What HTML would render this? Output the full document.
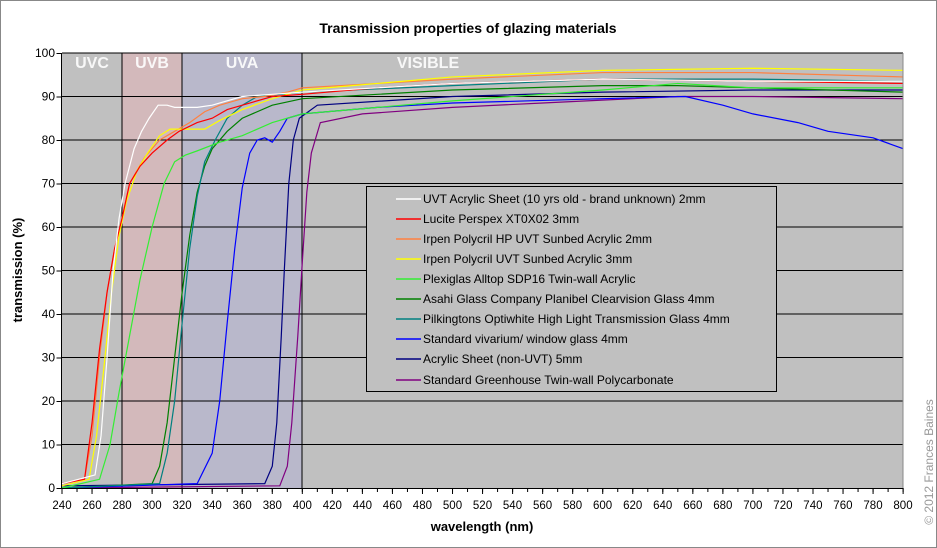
<!DOCTYPE html>
<html><head><meta charset="utf-8"><style>
body{margin:0;background:#fff}
svg{display:block;font-family:"Liberation Sans",Arial,sans-serif}
</style></head><body>
<svg width="937" height="548" viewBox="0 0 937 548">
<rect x="0.5" y="0.5" width="936" height="547" fill="#fff" stroke="#888"/>
<text x="468" y="33" text-anchor="middle" font-size="14" font-weight="bold">Transmission properties of glazing materials</text>
<rect x="62" y="53" width="841" height="435" fill="#c0c0c0"/>
<rect x="122" y="53" width="60" height="435" fill="#d3b9bb"/>
<rect x="182" y="53" width="120" height="435" fill="#b9b8cb"/>
<g stroke="#000" stroke-width="1">
<path d="M62 444.5H903M62 401H903M62 357.5H903M62 314H903M62 270.5H903M62 227H903M62 183.5H903M62 140H903M62 96.5H903M62 53H903"/>
<path d="M122 53V488M182 53V488M302 53V488"/>
</g>
<g fill="#fff" font-weight="bold" font-size="16" text-anchor="middle" opacity="0.9">
<text x="92" y="68">UVC</text><text x="152" y="68">UVB</text><text x="242" y="68">UVA</text><text x="428" y="68">VISIBLE</text>
</g>
<g transform="translate(-298.48,488) scale(1.502,-4.35)" fill="none" stroke-width="1.2">
<polyline vector-effect="non-scaling-stroke" stroke="#800080" points="240,0 385,0.5 390,5 393,15 397,35 400,52 403,68 406,77 412,84 440,86 500,87.5 560,88.5 650,90 700,90 800,89.5"/>
<polyline vector-effect="non-scaling-stroke" stroke="#000080" points="240,0.5 375,1 380,5 383,15 386,35 388,50 391,70 394,80 398,85 410,88 500,90 600,91 700,91.5 800,91.5"/>
<polyline vector-effect="non-scaling-stroke" stroke="#0000ff" points="240,0 330,1 340,8 345,20 350,38 355,55 360,69 365,77 370,80 375,80.5 380,79.5 385,82 390,85 400,86 450,87.5 500,88.5 600,89.5 655,90 680,88 700,86 730,84 750,82 780,80.5 800,78"/>
<polyline vector-effect="non-scaling-stroke" stroke="#008000" points="240,0 300,1 305,5 310,15 315,30 320,45 325,58 330,68 335,74 340,78 350,82 360,85 380,88 400,89.5 450,90.5 500,91.5 600,92.5 650,92.5 700,92 800,91"/>
<polyline vector-effect="non-scaling-stroke" stroke="#008080" points="240,0 305,1 310,8 315,20 320,38 325,55 330,67 335,75 342,80 350,85 360,88 370,90 400,91 500,92.5 600,94 700,94 800,93.5"/>
<polyline vector-effect="non-scaling-stroke" stroke="#33ee33" points="240,0 265,2 272,10 278,22 285,35 292,48 300,60 308,70 315,75 322,76.5 330,77.5 345,79.5 360,81 380,84 400,86 450,87.5 500,89 600,91.5 650,93 700,92 800,92"/>
<polyline vector-effect="non-scaling-stroke" stroke="#ff8040" points="240,1 255,2 260,12 265,30 270,45 275,55 280,62 285,70 295,76 305,80 315,82 325,84 335,86.5 345,88 360,89.5 375,90 390,91 400,92 450,93 500,94 600,95.5 700,95.5 800,94.5"/>
<polyline vector-effect="non-scaling-stroke" stroke="#ffff00" points="240,0.5 258,2 263,12 268,28 273,45 278,58 283,66 290,73 297,77 305,81 312,82.5 320,82.5 335,82.5 345,84.5 360,87 380,89.5 400,91.5 450,93 500,94.5 600,96 700,96.5 800,96"/>
<polyline vector-effect="non-scaling-stroke" stroke="#ff0000" points="240,1 255,2 260,15 265,32 270,45 275,55 280,62 285,70 292,74 300,77 310,80 318,82 330,84 340,85 350,87 365,88.5 380,90 400,90.5 450,92 500,93 600,94 700,93.5 800,93"/>
<polyline vector-effect="non-scaling-stroke" stroke="#ffffff" points="240,1 262,3 266,12 270,30 274,50 278,62 282,70 288,78 293,82 298,85 304,88 310,88 315,87.5 322,87.5 330,87.5 340,88 350,89 360,90 380,90.5 400,91 450,92 500,93 600,94 700,93.5 800,93.5"/>
</g>
<rect x="902.5" y="53" width="1" height="435" fill="#888"/>
<rect x="366.5" y="186.5" width="410" height="205" fill="#c0c0c0" stroke="#000"/>
<g stroke-width="1.5">
<path d="M396 199H421" stroke="#fff"/><path d="M396 219H421" stroke="#f00"/><path d="M396 239H421" stroke="#ff8040"/><path d="M396 259H421" stroke="#ff0"/><path d="M396 279H421" stroke="#3e3"/><path d="M396 299H421" stroke="#008000"/><path d="M396 319H421" stroke="#008080"/><path d="M396 339H421" stroke="#00f"/><path d="M396 359H421" stroke="#000080"/><path d="M396 380H421" stroke="#800080"/>
</g>
<g font-size="12" fill="#000">
<text x="423" y="203">UVT Acrylic Sheet (10 yrs old - brand unknown) 2mm</text>
<text x="423" y="223">Lucite Perspex XT0X02 3mm</text>
<text x="423" y="243">Irpen Polycril HP UVT Sunbed Acrylic 2mm</text>
<text x="423" y="263">Irpen Polycril UVT Sunbed Acrylic 3mm</text>
<text x="423" y="283">Plexiglas Alltop SDP16 Twin-wall Acrylic</text>
<text x="423" y="303">Asahi Glass Company Planibel Clearvision Glass 4mm</text>
<text x="423" y="323">Pilkingtons Optiwhite High Light Transmission Glass 4mm</text>
<text x="423" y="343">Standard vivarium/ window glass 4mm</text>
<text x="423" y="363">Acrylic Sheet (non-UVT) 5mm</text>
<text x="423" y="384">Standard Greenhouse Twin-wall Polycarbonate</text>
</g>
<path d="M61.5 53V488.5H903" stroke="#000" fill="none"/>
<line x1="61.5" y1="490" x2="904" y2="490" stroke="#000" stroke-width="4" stroke-dasharray="1 14.02"/>
<line x1="61.5" y1="491" x2="904" y2="491" stroke="#000" stroke-width="6" stroke-dasharray="1 29.04"/>
<line x1="59" y1="53" x2="59" y2="489" stroke="#000" stroke-width="5" stroke-dasharray="1 42.5"/>
<g font-size="12" text-anchor="end">
<text x="55" y="492">0</text><text x="55" y="448.5">10</text><text x="55" y="405">20</text><text x="55" y="361.5">30</text><text x="55" y="318">40</text><text x="55" y="274.5">50</text><text x="55" y="231">60</text><text x="55" y="187.5">70</text><text x="55" y="144">80</text><text x="55" y="100.5">90</text><text x="55" y="57">100</text>
</g>
<g font-size="11.5" text-anchor="middle">
<text x="62" y="509">240</text><text x="92" y="509">260</text><text x="122.1" y="509">280</text><text x="152.1" y="509">300</text><text x="182.1" y="509">320</text><text x="212.2" y="509">340</text><text x="242.2" y="509">360</text><text x="272.3" y="509">380</text><text x="302.3" y="509">400</text><text x="332.3" y="509">420</text><text x="362.4" y="509">440</text><text x="392.4" y="509">460</text><text x="422.4" y="509">480</text><text x="452.5" y="509">500</text><text x="482.5" y="509">520</text><text x="512.5" y="509">540</text><text x="542.6" y="509">560</text><text x="572.6" y="509">580</text><text x="602.6" y="509">600</text><text x="632.7" y="509">620</text><text x="662.7" y="509">640</text><text x="692.8" y="509">660</text><text x="722.8" y="509">680</text><text x="752.8" y="509">700</text><text x="782.9" y="509">720</text><text x="812.9" y="509">740</text><text x="842.9" y="509">760</text><text x="873" y="509">780</text><text x="903" y="509">800</text>
</g>
<text x="482" y="531" font-size="13" font-weight="bold" text-anchor="middle">wavelength (nm)</text>
<text transform="translate(22,270) rotate(-90)" font-size="13" font-weight="bold" text-anchor="middle">transmission (%)</text>
<text transform="translate(933,462) rotate(-90)" font-size="12" fill="#999" text-anchor="middle">© 2012 Frances Baines</text>
</svg>
</body></html>
